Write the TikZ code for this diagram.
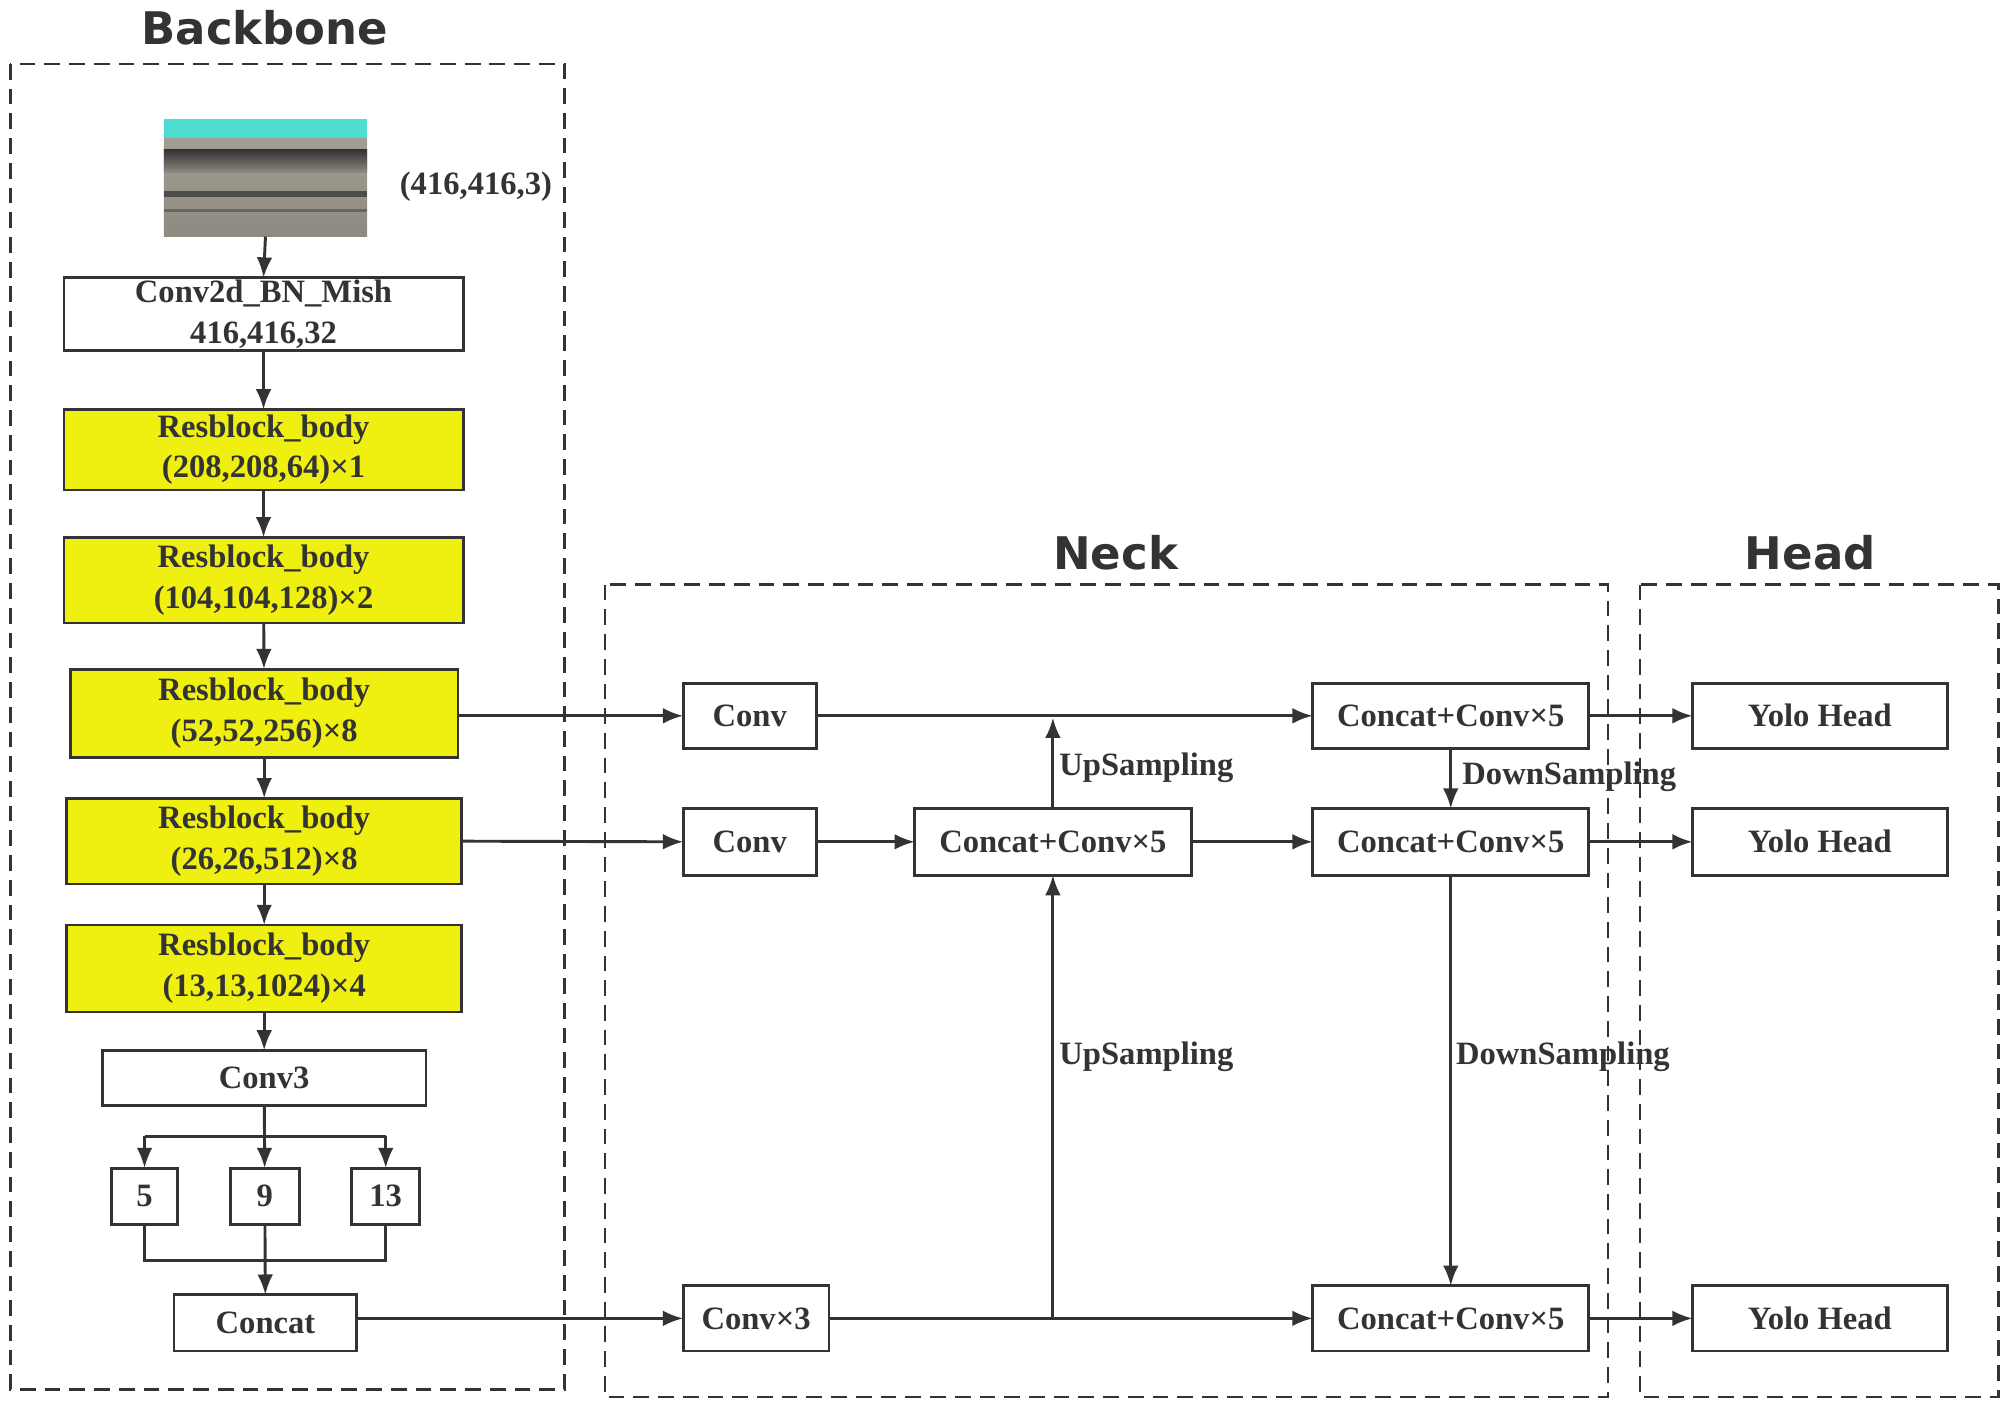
\documentclass[tikz,border=0pt]{standalone}
\usepackage{fontspec}
\setmainfont{Liberation Serif}
\newfontfamily\titlefont{DejaVu Sans}
\usetikzlibrary{arrows.meta}
\definecolor{ln}{HTML}{333333}
\definecolor{yel}{HTML}{F0F010}
\definecolor{teal1}{HTML}{4EDDD0}
\definecolor{gr1}{HTML}{8F8A80}
\definecolor{gr2}{HTML}{A29D92}
\begin{document}
\begin{tikzpicture}[x=0.02cm,y=-0.02cm,
  box/.style={draw=ln,line width=1.3pt,inner sep=0pt,outer sep=0pt,align=center,font=\fontsize{14.5}{18.2}\selectfont\bfseries,text=ln},
  rb/.style={box,fill=yel},
  grp/.style={draw=ln,line width=1.2pt,dash pattern=on 7pt off 4pt},
  ttl/.style={font=\titlefont\fontsize{20}{24}\selectfont\bfseries,text=ln},
  lbl/.style={font=\fontsize{14.5}{16}\selectfont\bfseries,text=ln,anchor=west,inner sep=1pt},
  ar/.style={draw=ln,line width=1.3pt,-{Latex[length=9pt,width=7pt]}},
  ln/.style={draw=ln,line width=1.3pt}]
\useasboundingbox (0,0) rectangle (1568,1102);
% groups
\draw[grp] (8,50) rectangle (441,1086);
\draw[grp] (473,457) rectangle (1257,1092);
\draw[grp] (1282,457) rectangle (1562,1092);
\node[ttl] (tb) at (207,22) {Backbone};
\node[ttl] (tn) at (872,432) {Neck};
\node[ttl] (th) at (1415,432) {Head};
% image
\shade[top color=gr2,bottom color=gr1] (128,108) rectangle (287,185);
\fill[teal1] (128,93) rectangle (287,108);
\shade[top color=black!80,bottom color=gr1] (128,117) rectangle (287,135);
\fill[black!70] (128,149) rectangle (287,154);
\fill[black!60] (128,163) rectangle (287,166);
\node[inner sep=0pt,outer sep=0pt,minimum width=3.18cm,minimum height=1.84cm] (img) at (207.5,139) {};
\node[font=\fontsize{14.5}{16}\selectfont\bfseries,text=ln] (sz) at (372,146) {(416,416,3)};
% backbone
\node[box,minimum width=6.24cm,minimum height=1.14cm] (c2d) at (206,245.5) {Conv2d\_BN\_Mish\\416,416,32};
\node[rb,minimum width=6.24cm,minimum height=1.26cm] (r1) at (206,351.5) {Resblock\_body\\(208,208,64)×1};
\node[rb,minimum width=6.24cm,minimum height=1.34cm] (r2) at (206,453.5) {Resblock\_body\\(104,104,128)×2};
\node[rb,minimum width=6.06cm,minimum height=1.38cm] (r3) at (206.5,557.5) {Resblock\_body\\(52,52,256)×8};
\node[rb,minimum width=6.18cm,minimum height=1.34cm] (r4) at (206.5,657.5) {Resblock\_body\\(26,26,512)×8};
\node[rb,minimum width=6.18cm,minimum height=1.36cm] (r5) at (206.5,757) {Resblock\_body\\(13,13,1024)×4};
\node[box,minimum width=5.06cm,minimum height=0.86cm] (c3) at (206.5,842.5) {Conv3};
\node[box,minimum width=1.04cm,minimum height=0.88cm] (p5) at (113,935) {5};
\node[box,minimum width=1.08cm,minimum height=0.88cm] (p9) at (207,935) {9};
\node[box,minimum width=1.06cm,minimum height=0.88cm] (p13) at (301.5,935) {13};
\node[box,minimum width=2.86cm,minimum height=0.88cm] (cat) at (207.5,1034) {Concat};
% neck
\node[box,minimum width=2.08cm,minimum height=1.02cm] (n1) at (586,559.5) {Conv};
\node[box,minimum width=2.08cm,minimum height=1.04cm] (n2) at (586,658) {Conv};
\node[box,minimum width=2.28cm,minimum height=1.02cm] (n3) at (591,1030.5) {Conv×3};
\node[box,minimum width=4.32cm,minimum height=1.04cm] (cm) at (823,658) {Concat+Conv×5};
\node[box,minimum width=4.32cm,minimum height=1.02cm] (cc1) at (1134,559.5) {Concat+Conv×5};
\node[box,minimum width=4.32cm,minimum height=1.04cm] (cc2) at (1134,658) {Concat+Conv×5};
\node[box,minimum width=4.32cm,minimum height=1.02cm] (cc3) at (1134,1030.5) {Concat+Conv×5};
% head
\node[box,minimum width=3.98cm,minimum height=1.02cm] (y1) at (1422.5,559.5) {Yolo Head};
\node[box,minimum width=3.98cm,minimum height=1.04cm] (y2) at (1422.5,658) {Yolo Head};
\node[box,minimum width=3.98cm,minimum height=1.02cm] (y3) at (1422.5,1030.5) {Yolo Head};
% backbone connectors
\draw[ar] (img.south) -- (c2d.north);
\draw[ar] (c2d) -- (r1);
\draw[ar] (r1) -- (r2);
\draw[ar] (r2) -- (r3);
\draw[ar] (r3) -- (r4);
\draw[ar] (r4) -- (r5);
\draw[ar] (r5) -- (c3);
\coordinate (spl) at (113,888);
\coordinate (spr) at (301.5,888);
\draw[ln] (spl) -- (spr);
\draw[ar] (c3) -- (p9);
\draw[ar] (spl) -- (p5);
\draw[ar] (spr) -- (p13);
\coordinate (mg) at (207,985);
\draw[ln] (p5.south) |- (mg) -| (p13.south);
\draw[ar] (p9) -- (cat);
% to neck
\draw[ar] (r3.east |- n1.west) -- (n1.west);
\draw[ar] (r4.east) -- (n2.west);
\draw[ar] (cat.east |- n3.west) -- (n3.west);
\draw[ar] (n1) -- (cc1);
\draw[ar] (n2) -- (cm);
\draw[ar] (cm) -- (cc2);
\draw[ar] (n3) -- (cc3);
\coordinate (up1) at (823,561);
\draw[ar] (cm.north) -- (up1);
\coordinate (up2) at (823,1030.5);
\draw[ar] (up2) -- (cm.south);
\draw[ar] (cc1) -- (cc2);
\draw[ar] (cc2) -- (cc3);
\node[lbl] (l1) at (826,600) {UpSampling};
\node[lbl] (l2) at (826,826) {UpSampling};
\node[lbl] (l3) at (1141,607) {DownSampling};
\node[lbl] (l4) at (1136,826) {DownSampling};
% head
\draw[ar] (cc1) -- (y1);
\draw[ar] (cc2) -- (y2);
\draw[ar] (cc3) -- (y3);
\end{tikzpicture}
\end{document}
